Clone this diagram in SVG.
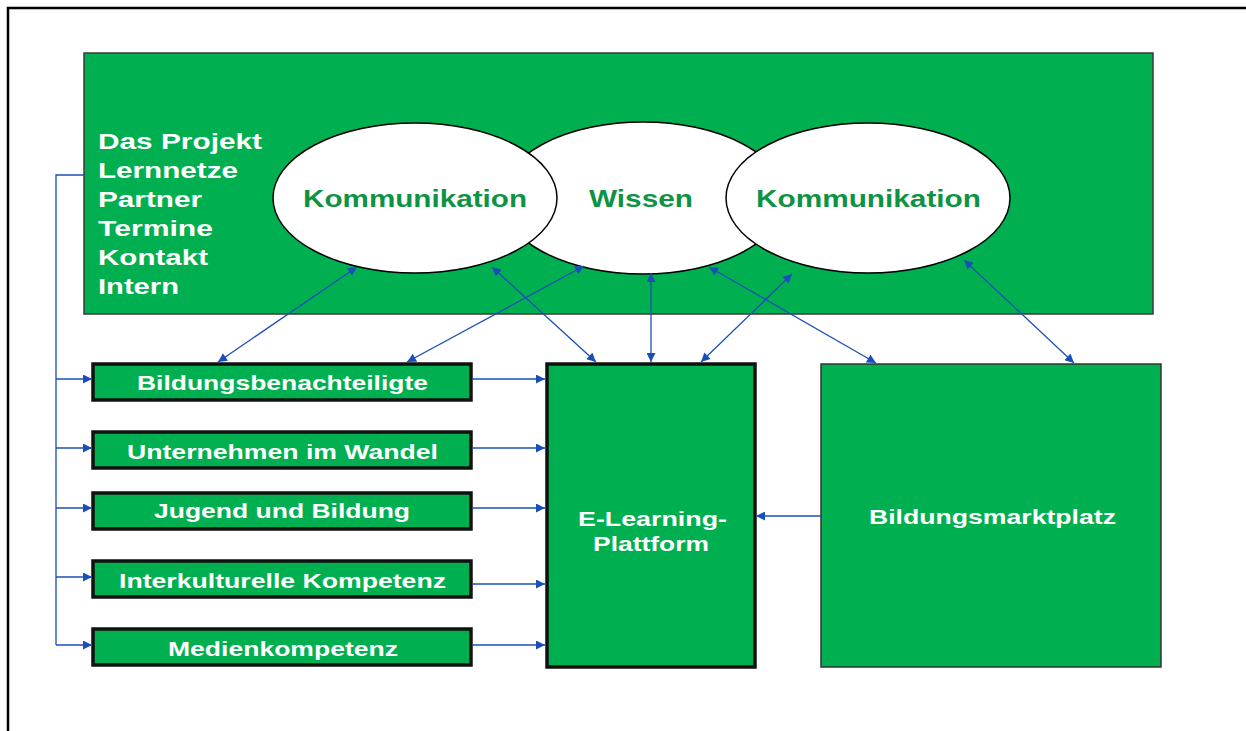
<svg xmlns="http://www.w3.org/2000/svg" width="1246" height="731" viewBox="0 0 1246 731">
<style>
.frame{fill:none;stroke:#000;stroke-width:2.5}
.green{fill:#00b050}
.big{stroke:#3a3a3a;stroke-width:1.5}
.ell{fill:#fff;stroke:#000;stroke-width:1.5}
.small{fill:#00b050;stroke:#111;stroke-width:3.5}
.thick{fill:#00b050;stroke:#111;stroke-width:3.5}
.thin{fill:#00b050;stroke:#333;stroke-width:1.5}
.wt{font-family:"Liberation Sans",Arial,sans-serif;font-weight:bold;fill:#fff}
.gt{font-family:"Liberation Sans",Arial,sans-serif;font-weight:bold;fill:#0e9345;font-size:24px}
.c{stroke:#1a4fb8;stroke-width:1.3;fill:none}
</style>
<defs>
<marker id="ah" viewBox="0 0 10 10" refX="10" refY="5" markerWidth="10" markerHeight="9" markerUnits="userSpaceOnUse" orient="auto-start-reverse">
<path d="M0,0 L10,5 L0,10 z" fill="#1a4fb8"/>
</marker>
</defs>
<rect class="frame" x="8" y="8" width="1300" height="800"/>
<g id="top">
<rect class="green big" x="84" y="53" width="1069" height="261"/>
</g>
<g id="menu">
<text class="wt" font-size="22" x="98" y="149" textLength="164" lengthAdjust="spacingAndGlyphs">Das Projekt</text>
<text class="wt" font-size="22" x="98" y="178" textLength="140" lengthAdjust="spacingAndGlyphs">Lernnetze</text>
<text class="wt" font-size="22" x="98" y="207" textLength="104" lengthAdjust="spacingAndGlyphs">Partner</text>
<text class="wt" font-size="22" x="98" y="236" textLength="115" lengthAdjust="spacingAndGlyphs">Termine</text>
<text class="wt" font-size="22" x="98" y="265" textLength="110" lengthAdjust="spacingAndGlyphs">Kontakt</text>
<text class="wt" font-size="22" x="98" y="294" textLength="81" lengthAdjust="spacingAndGlyphs">Intern</text>
</g>
<g id="wissen">
<ellipse class="ell" cx="643" cy="198" rx="142" ry="76"/>
<text class="gt" x="589" y="207" textLength="104" lengthAdjust="spacingAndGlyphs">Wissen</text>
</g>
<g id="komm1">
<ellipse class="ell" cx="415" cy="198" rx="142" ry="75"/>
<text class="gt" x="303" y="207" textLength="224" lengthAdjust="spacingAndGlyphs">Kommunikation</text>
</g>
<g id="komm2">
<ellipse class="ell" cx="868" cy="198" rx="142" ry="75"/>
<text class="gt" x="756" y="207" textLength="225" lengthAdjust="spacingAndGlyphs">Kommunikation</text>
</g>
<g id="b1"><rect class="small" x="93" y="364" width="378" height="36"/><text class="wt" font-size="20.5" x="137" y="390" textLength="291" lengthAdjust="spacingAndGlyphs">Bildungsbenachteiligte</text></g>
<g id="b2"><rect class="small" x="93" y="432" width="378" height="36"/><text class="wt" font-size="20.5" x="127" y="459" textLength="311" lengthAdjust="spacingAndGlyphs">Unternehmen im Wandel</text></g>
<g id="b3"><rect class="small" x="93" y="493" width="378" height="36"/><text class="wt" font-size="20.5" x="154" y="518" textLength="256" lengthAdjust="spacingAndGlyphs">Jugend und Bildung</text></g>
<g id="b4"><rect class="small" x="93" y="561" width="378" height="36"/><text class="wt" font-size="20.5" x="119" y="588" textLength="327" lengthAdjust="spacingAndGlyphs">Interkulturelle Kompetenz</text></g>
<g id="b5"><rect class="small" x="93" y="629" width="378" height="36"/><text class="wt" font-size="20.5" x="168" y="656" textLength="230" lengthAdjust="spacingAndGlyphs">Medienkompetenz</text></g>
<g id="elearn"><rect class="thick" x="547" y="364" width="208" height="303"/>
<text class="wt" font-size="20" x="578" y="526" textLength="149" lengthAdjust="spacingAndGlyphs">E-Learning-</text>
<text class="wt" font-size="20" x="593" y="551" textLength="116" lengthAdjust="spacingAndGlyphs">Plattform</text></g>
<g id="markt"><rect class="thin" x="821" y="364" width="340" height="303"/>
<text class="wt" font-size="20" x="869" y="524" textLength="247" lengthAdjust="spacingAndGlyphs">Bildungsmarktplatz</text></g>
<g id="connectors">
<polyline class="c" points="84,175 56,175 56,645"/>
<line class="c" x1="56" y1="379" x2="92" y2="379" marker-end="url(#ah)"/>
<line class="c" x1="56" y1="448" x2="92" y2="448" marker-end="url(#ah)"/>
<line class="c" x1="56" y1="508" x2="92" y2="508" marker-end="url(#ah)"/>
<line class="c" x1="56" y1="577" x2="92" y2="577" marker-end="url(#ah)"/>
<line class="c" x1="56" y1="645" x2="92" y2="645" marker-end="url(#ah)"/>
<line class="c" x1="472" y1="379" x2="545" y2="379" marker-end="url(#ah)"/>
<line class="c" x1="472" y1="448" x2="545" y2="448" marker-end="url(#ah)"/>
<line class="c" x1="472" y1="508" x2="545" y2="508" marker-end="url(#ah)"/>
<line class="c" x1="472" y1="584" x2="545" y2="584" marker-end="url(#ah)"/>
<line class="c" x1="472" y1="645" x2="545" y2="645" marker-end="url(#ah)"/>
<line class="c" x1="821" y1="516" x2="756" y2="516" marker-end="url(#ah)"/>
<line class="c" x1="218" y1="362" x2="357" y2="267" marker-start="url(#ah)" marker-end="url(#ah)"/>
<line class="c" x1="407" y1="362" x2="584" y2="266" marker-start="url(#ah)" marker-end="url(#ah)"/>
<line class="c" x1="596" y1="362" x2="492" y2="267" marker-start="url(#ah)" marker-end="url(#ah)"/>
<line class="c" x1="651" y1="362" x2="651" y2="273" marker-start="url(#ah)" marker-end="url(#ah)"/>
<line class="c" x1="701" y1="362" x2="792" y2="274" marker-start="url(#ah)" marker-end="url(#ah)"/>
<line class="c" x1="876" y1="363" x2="709" y2="267" marker-start="url(#ah)" marker-end="url(#ah)"/>
<line class="c" x1="1074" y1="363" x2="964" y2="260" marker-start="url(#ah)" marker-end="url(#ah)"/>
</g>
</svg>
